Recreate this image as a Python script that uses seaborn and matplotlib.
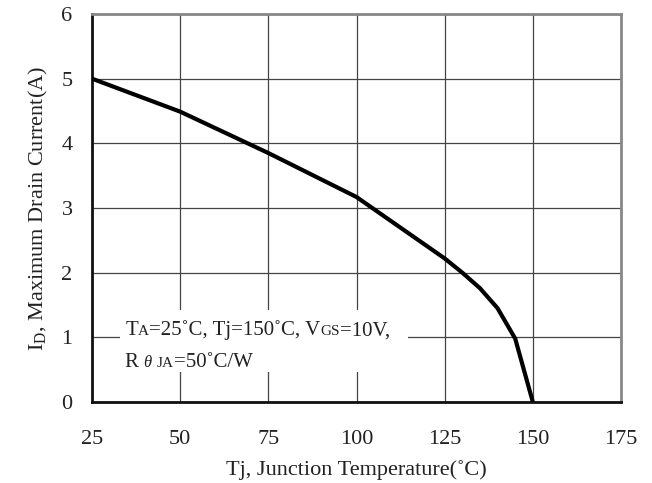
import matplotlib
matplotlib.use("Agg")
import matplotlib.pyplot as plt
import seaborn as sns
from matplotlib.patches import Rectangle
from matplotlib.offsetbox import TextArea, HPacker, VPacker, AnnotationBbox

# curve
temp = [25, 50, 75, 100, 125, 130, 135, 140, 145, 150]
current = [5.0, 4.49, 3.85, 3.17, 2.22, 2.0, 1.76, 1.45, 0.98, 0.0]

x_ticks = [25, 50, 75, 100, 125, 150, 175]
y_ticks = [0, 1, 2, 3, 4, 5, 6]

sns.set_style("white")
plt.rcParams['font.family'] = ['Liberation Serif', 'DejaVu Serif']
plt.rcParams['mathtext.fontset'] = 'custom'
plt.rcParams['mathtext.rm'] = 'Liberation Serif'

fig = plt.figure(figsize=(6.52, 4.83), dpi=100)
ax = fig.add_axes([92 / 652, 1 - 402 / 483, 529 / 652, 388 / 483])

sns.lineplot(x=temp, y=current, color='black', lw=3, ax=ax, zorder=5)

ax.set_xlim(25, 175)
ax.set_ylim(0, 6)
ax.set_xticks(x_ticks)
ax.set_yticks(y_ticks)
ax.grid(True, color='#444444', lw=0.9)
ax.tick_params(axis='x', direction='in', length=5, width=1.5, pad=20, labelsize=16, colors='#222222')
ax.tick_params(axis='y', direction='in', length=5, width=1.5, pad=14, labelsize=16, colors='#222222')

for side in ['left', 'bottom']:
    ax.spines[side].set_color('#111111')
    ax.spines[side].set_linewidth(2)
for side in ['top', 'right']:
    ax.spines[side].set_color('#888888')
    ax.spines[side].set_linewidth(2)

ax.set_xlabel('Tj, Junction Temperature(˚C)', fontsize=16, color='#222222', labelpad=8)
ax.set_ylabel(r'I$_\mathregular{D}$, Maximum Drain Current(A)', fontsize=16, color='#222222', labelpad=8)

# white patch behind the condition note, hides the grid there
ax.add_patch(Rectangle((32.9, 0.46), 81.7, 0.96, facecolor='white', edgecolor='none', zorder=3))

# condition note, small letters sit on the baseline like in the datasheet
big = dict(fontsize=15, color='#222222')
small = dict(fontsize=11, color='#222222')
small_it = dict(fontsize=12, color='#222222', style='italic')

line1 = HPacker(children=[TextArea('T', textprops=big), TextArea('A', textprops=small),
                          TextArea('=25˚C, Tj=150˚C, V', textprops=big), TextArea('GS', textprops=small),
                          TextArea('=10V,', textprops=big)],
                align='baseline', pad=0, sep=0)
line2 = HPacker(children=[TextArea('R ', textprops=big), TextArea('θ ', textprops=small_it),
                          TextArea('JA', textprops=small), TextArea('=50˚C/W', textprops=big)],
                align='baseline', pad=0, sep=0)
note = VPacker(children=[line1, line2], align='left', pad=0, sep=9)
ab = AnnotationBbox(note, (34.4, 1.26), xycoords='data', box_alignment=(0, 1), frameon=False,
                    pad=0, zorder=4)
ax.add_artist(ab)

fig.savefig('out.png', dpi=100)
